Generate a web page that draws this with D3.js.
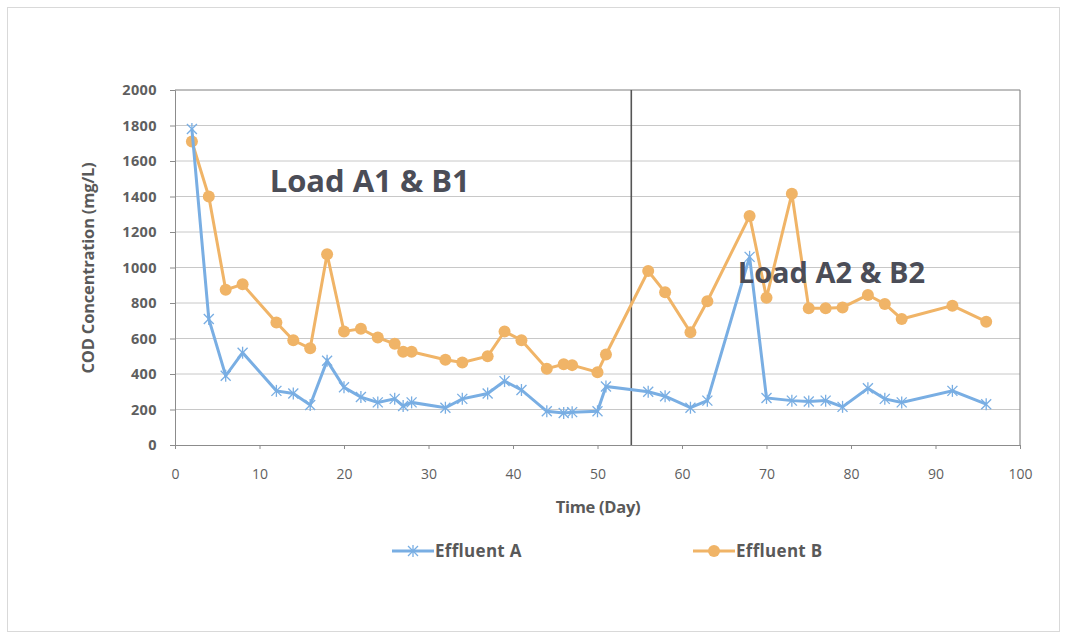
<!DOCTYPE html>
<html><head><meta charset="utf-8">
<script src="https://cdn.jsdelivr.net/npm/d3@7"></script>
<style>
body{margin:0;background:#fff;}
text{font-family:"Open Sans","Liberation Sans",sans-serif;}
</style></head>
<body><svg id="c" width="1067" height="639"></svg>
<script>
const daysA = [2,4,6,8,12,14,16,18,20,22,24,26,27,28,32,34,37,39,41,44,46,47,50,51,56,58,61,63,68,70,73,75,77,79,82,84,86,92,96];
const valuesA = [1780,710,390,520,305,290,225,475,325,270,240,260,220,240,210,260,290,360,310,190,180,185,190,330,300,275,210,250,1060,265,250,245,250,215,320,260,240,305,230];
const daysB = [2,4,6,8,12,14,16,18,20,22,24,26,27,28,32,34,37,39,41,44,46,47,50,51,56,58,61,63,68,70,73,75,77,79,82,84,86,92,96];
const valuesB = [1710,1400,875,905,690,590,545,1075,640,655,605,570,525,525,480,465,500,640,590,430,455,450,410,510,980,860,635,810,1290,830,1415,770,770,775,845,795,710,785,695];
const xTicks = [0,10,20,30,40,50,60,70,80,90,100];
const yTicks = [0,200,400,600,800,1000,1200,1400,1600,1800,2000];
const seriesNames = ["Effluent A","Effluent B"];
const loadLabels = [{t:"Load A1 & B1", x:11.2, y:1425, s:31},{t:"Load A2 & B2", x:66.6, y:915, s:29}];
const dividerDay = 54;

const svg = d3.select("#c");
const colA = "#79aee3", colB = "#f0b467";
const L=175, R=1020, T=90, B=445;
const x = d3.scaleLinear().domain([0,100]).range([L,R]);
const y = d3.scaleLinear().domain([0,2000]).range([B,T]);

// outer border
svg.append("rect").attr("x",7.5).attr("y",7.5).attr("width",1052).attr("height",624)
  .attr("fill","#fff").attr("stroke","#d9d9d9");

// gridlines
svg.append("g").selectAll("line").data(yTicks.filter(d=>d>0)).join("line")
  .attr("x1",L).attr("x2",R).attr("y1",d=>y(d)).attr("y2",d=>y(d))
  .attr("stroke","#c8c8c8").attr("stroke-width",1);
// frame top & right
svg.append("line").attr("x1",L).attr("x2",R).attr("y1",T).attr("y2",T).attr("stroke","#9a9a9a");
svg.append("line").attr("x1",R).attr("x2",R).attr("y1",T).attr("y2",B).attr("stroke","#8a8a8a").attr("stroke-width",1.2);

// axes
const gx = svg.append("g").attr("transform",`translate(0,${B})`)
  .call(d3.axisBottom(x).tickValues(xTicks).tickSize(4).tickPadding(20));
const gy = svg.append("g").attr("transform",`translate(${L},0)`)
  .call(d3.axisLeft(y).tickValues(yTicks).tickFormat(d3.format("d")).tickSize(5).tickPadding(13));
[gx,gy].forEach(g=>{
  g.selectAll("path,line").attr("stroke","#8c8c8c");
  g.selectAll("text").attr("fill","#5f5f5f");
});
gx.selectAll("text").style("font-size","14px");
gy.selectAll("text").style("font-size","14.5px").style("font-weight","bold").style("letter-spacing","0.4px");

// divider
svg.append("line").attr("x1",x(dividerDay)).attr("x2",x(dividerDay)).attr("y1",T).attr("y2",B)
  .attr("stroke","#555").attr("stroke-width",1.6);

// axis titles
svg.append("text").attr("x",598).attr("y",513).attr("text-anchor","middle")
  .attr("fill","#595959").style("font-size","16.5px").style("font-weight","bold").style("letter-spacing","-0.3px").text("Time (Day)");
svg.append("text").attr("transform","translate(94,268) rotate(-90)").attr("text-anchor","middle")
  .attr("fill","#595959").style("font-size","16.5px").style("font-weight","bold").style("letter-spacing","-0.2px").text("COD Concentration (mg/L)");

const line = d3.line().x(d=>x(d[0])).y(d=>y(d[1]));
const dataA = daysA.map((d,i)=>[d,valuesA[i]]);
const dataB = daysB.map((d,i)=>[d,valuesB[i]]);

// series B
svg.append("path").datum(dataB).attr("d",line).attr("fill","none").attr("stroke",colB).attr("stroke-width",3);
svg.append("g").selectAll("circle").data(dataB).join("circle")
  .attr("cx",d=>x(d[0])).attr("cy",d=>y(d[1])).attr("r",6).attr("fill",colB);

// series A
function star(g,cx,cy,s,c){
  g.append("line").attr("x1",cx-s).attr("x2",cx+s).attr("y1",cy-s).attr("y2",cy+s).attr("stroke",c).attr("stroke-width",1.3);
  g.append("line").attr("x1",cx-s).attr("x2",cx+s).attr("y1",cy+s).attr("y2",cy-s).attr("stroke",c).attr("stroke-width",1.3);
  g.append("line").attr("x1",cx).attr("x2",cx).attr("y1",cy-s-1).attr("y2",cy+s+1).attr("stroke",c).attr("stroke-width",1.3);
}
svg.append("path").datum(dataA).attr("d",line).attr("fill","none").attr("stroke",colA).attr("stroke-width",3);
const gA = svg.append("g");
dataA.forEach(d=>star(gA,x(d[0]),y(d[1]),5,colA));

// load labels
loadLabels.forEach(l=>{
  svg.append("text").attr("x",x(l.x)).attr("y",y(l.y)).attr("fill","#4b4d57")
    .style("font-size",l.s+"px").style("font-weight","bold").text(l.t);
});

// legend
const lg = svg.append("g");
const legY = 551;
[[392,colA,0],[693,colB,1]].forEach(([lx,c,i])=>{
  lg.append("line").attr("x1",lx).attr("x2",lx+42).attr("y1",legY).attr("y2",legY).attr("stroke",c).attr("stroke-width",3);
  if(i===0) star(lg,lx+21,legY,5,c); else lg.append("circle").attr("cx",lx+21).attr("cy",legY).attr("r",6).attr("fill",c);
  lg.append("text").attr("x",lx+43).attr("y",legY+6).attr("fill","#595959")
    .style("font-size","17px").style("font-weight","bold").style("letter-spacing","0.3px").text(seriesNames[i]);
});
</script></body></html>
